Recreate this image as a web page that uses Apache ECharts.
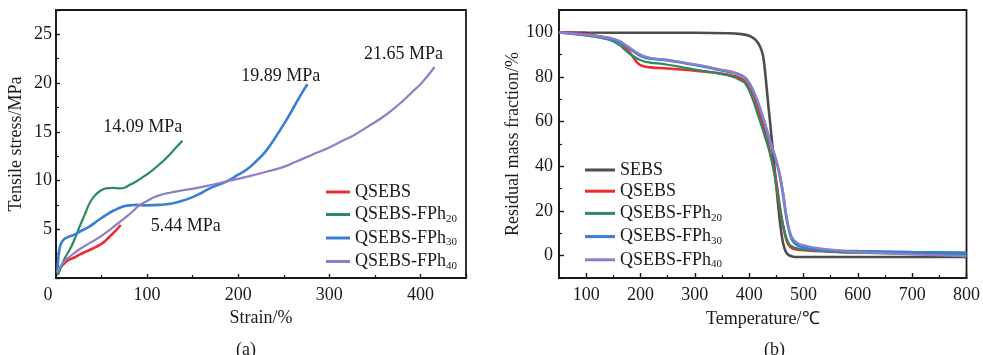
<!DOCTYPE html>
<html><head><meta charset="utf-8">
<script src="https://cdn.jsdelivr.net/npm/echarts@6/dist/echarts.min.js"></script>
<style>html,body{margin:0;padding:0;background:#fff}#c{width:983px;height:355px}</style>
</head><body><div id="c"></div>
<script>
// ---- Panel (a): tensile stress-strain ----
const tensileNames = ['QSEBS', 'QSEBS-FPh20', 'QSEBS-FPh30', 'QSEBS-FPh40'];
const tensileQSEBS = [[1.3,0.5],[4,1.0],[8,1.4],[13,1.8],[18.9,2.05],[26,2.4],[33.5,2.73],[41,3.05],[48,3.4],[54,3.8],[59,4.26],[65,4.8],[71,5.44]];
const tensileFPh20 = [[2,0.3],[6,1.2],[10,2.1],[15,2.9],[20,3.9],[26,5.3],[32,6.6],[37,7.7],[43,8.5],[48,8.9],[55,9.2],[62,9.25],[70,9.2],[76,9.3],[81,9.56],[88,9.9],[96,10.4],[105,11.0],[114,11.7],[122,12.4],[130,13.2],[138.8,14.09]];
const tensileFPh30 = [[1.5,0.5],[2.4,1.9],[3.5,2.8],[5,3.4],[8,3.9],[12,4.15],[18.9,4.4],[28,4.85],[37,5.3],[46,5.9],[55.5,6.5],[64,6.95],[73.7,7.34],[81,7.45],[88,7.5],[100,7.45],[113.9,7.5],[127,7.65],[139.5,7.95],[150,8.3],[160,8.75],[170,9.25],[187,9.9],[200,10.6],[209,11.1],[220,12.0],[231,13.1],[242,14.6],[252.8,16.2],[262,17.7],[270,19.0],[276,19.89]];
const tensileFPh40 = [[1.5,0.6],[5,1.2],[10,1.8],[15.2,2.2],[25,2.9],[37.2,3.6],[48,4.2],[59,4.95],[68,5.6],[77.4,6.3],[85,6.9],[92,7.5],[100,7.9],[107,8.25],[114,8.5],[125,8.75],[139.5,9.0],[157.8,9.3],[175,9.65],[187,9.9],[210,10.4],[231,10.9],[250,11.4],[263.8,11.95],[280,12.6],[300,13.4],[315,14.1],[326,14.6],[340,15.4],[360,16.6],[375,17.7],[390,19.0],[403,20.2],[415.5,21.65]];
const tensileLabels = ['5.44 MPa', '14.09 MPa', '19.89 MPa', '21.65 MPa'];
const tensileLabelAt = [[142.4,5.26],[95.3,15.5],[246.6,20.7],[381.5,23.0]];
const strainTicks = [0, 100, 200, 300, 400];
const stressTicks = [5, 10, 15, 20, 25];

// ---- Panel (b): TGA ----
const tgaNames = ['SEBS', 'QSEBS', 'QSEBS-FPh20', 'QSEBS-FPh30', 'QSEBS-FPh40'];
const tgaSEBS = [[50,100],[100,99.9],[200,99.8],[300,99.8],[360,99.6],[386,99.2],[400,98.5],[410,97],[417,95],[422,92.5],[426,89],[429,83],[432,75.7],[435,68],[438,61],[444,46],[450,31],[456,16.5],[460,9],[463,5],[467,2],[472,0.4],[478,-0.3],[484,-0.6],[550,-0.6],[700,-0.6],[800,-0.6]];
const tgaQSEBS = [[50,100],[80,99.7],[103,99],[125,98.2],[145,97.3],[160,95.8],[170,93.6],[180,91],[188,88.4],[196,86],[204,84.9],[219,84.3],[250,83.8],[286,83.1],[320,82.4],[347,81.6],[370,80.5],[384,79.4],[395,77.5],[405,73.5],[417,65],[429,55],[441,44],[450,33],[457,21],[465,10.5],[472,5],[480,3.2],[500,2.5],[550,1.8],[600,1.4],[700,1.1],[800,0.9]];
const tgaFPh20 = [[50,100],[100,98.6],[140,96.8],[160,94.5],[172,92],[185,89.5],[200,87.6],[210,86.8],[250,85.5],[286,84],[320,82.5],[347,81.4],[368,80.2],[384,78.5],[393,77],[405,71],[417,62.3],[429,53.3],[441,43],[450,31],[457,20.5],[466,10],[472,6],[478,4.2],[490,3.2],[502,2.7],[550,1.8],[600,1.3],[700,0.9],[800,0.6]];
const tgaFPh30 = [[50,100],[103,98.6],[140,97.2],[160,95.8],[175,93.5],[190,91],[204,89.1],[220,88.2],[250,87.5],[286,86],[320,84.5],[347,83.1],[370,82],[384,80.9],[395,79],[408,73.5],[423,63.5],[438,51.5],[453,39.5],[462,28],[468,18],[475,10],[482,6],[492,4.3],[510,3.2],[550,2.4],[600,2.0],[700,1.6],[800,1.3]];
const tgaFPh40 = [[50,100],[103,98.8],[140,97.6],[160,96.3],[175,94],[190,91.5],[204,89.6],[220,88.5],[250,87.5],[286,86.2],[320,84.8],[347,83.3],[368,82.4],[384,80.5],[393,79.4],[408,73.5],[423,63.8],[438,51.9],[453,39.9],[462.6,28],[468.7,17.6],[477.8,8.7],[490,5.5],[505,4.4],[520,3.6],[550,2.7],[580,1.9],[640,1.2],[700,0.6],[800,-0.2]];
const tempTicks = [100, 200, 300, 400, 500, 600, 700, 800];
const tempMinorTicks = [150, 250, 350, 450, 550, 650, 750];
const massTicks = [0, 20, 40, 60, 80, 100];
const massMinorTicks = [-10, 10, 30, 50, 70, 90, 110];

const FONT = '"Liberation Serif", "Times New Roman", serif';
const TXT = '#1a1a1a';
const FS = 18;
const C = {gray:'#4d4d4d', red:'#ee2b33', green:'#2b8a5e', blue:'#3b7fd3', purple:'#8e7fcb'};

function legendFmt(name) {
  const m = name.match(/^(.*?)(\d+)$/);
  return m ? '{m|' + m[1] + '}{s|' + m[2] + '}' : '{m|' + name + '}';
}
const legendRich = {
  m: {fontFamily: FONT, fontSize: FS, color: TXT, lineHeight: 20},
  s: {fontFamily: FONT, fontSize: 11, color: TXT, padding: [9, 0, 0, 0], lineHeight: 20}
};
const axisLine = {show: true, onZero: false, lineStyle: {color: TXT, width: 1.8}};
const lbl = (extra) => Object.assign({fontFamily: FONT, fontSize: FS, color: TXT}, extra || {});

const chart = echarts.init(document.getElementById('c'), null, {renderer: 'canvas'});

function line(name, data, color, width, xi, extra) {
  return Object.assign({
    name, type: 'line', data, xAxisIndex: xi, yAxisIndex: xi,
    showSymbol: false, symbol: 'none', smooth: 0.5,
    lineStyle: {color, width}, itemStyle: {color}, silent: true, animation: false
  }, extra || {});
}

const option = {
  animation: false,
  backgroundColor: '#fff',
  title: [
    {text: '(a)', left: 231, top: 336, textStyle: {fontFamily: FONT, fontSize: FS, color: TXT, fontWeight: 'normal'}},
    {text: '(b)', left: 759, top: 336, textStyle: {fontFamily: FONT, fontSize: FS, color: TXT, fontWeight: 'normal'}}
  ],
  grid: [
    {left: 56, top: 10, width: 410, height: 268, show: true, borderColor: TXT, borderWidth: 1.8, backgroundColor: 'transparent'},
    {left: 559, top: 10, width: 410, height: 268, show: true, borderColor: TXT, borderWidth: 1.8, backgroundColor: 'transparent'}
  ],
  legend: [
    {data: tensileNames, orient: 'vertical', left: 321, top: 178, itemWidth: 24, itemHeight: 3, itemGap: 3.5,
     icon: 'rect', selectedMode: false, formatter: legendFmt, textStyle: {rich: legendRich}},
    {data: tgaNames, orient: 'vertical', left: 580, top: 156, itemWidth: 30, itemHeight: 3, itemGap: 3.2,
     icon: 'rect', selectedMode: false, formatter: legendFmt, textStyle: {rich: legendRich}}
  ],
  xAxis: [
    {type: 'value', gridIndex: 0, min: 0, max: 450, interval: 100,
     name: 'Strain/%', nameLocation: 'middle', nameGap: 31, nameTextStyle: lbl(),
     axisLine, axisTick: {show: true, inside: true, length: 4, lineStyle: {color: TXT, width: 1.4}},
     minorTick: {show: true, splitNumber: 2, length: 3, lineStyle: {color: TXT, width: 1.2}},
     axisLabel: lbl({margin: 8, showMaxLabel: false,
       formatter: v => v === 0 ? '{z|0}' : (strainTicks.includes(v) ? String(v) : ''),
       rich: {z: {fontFamily: FONT, fontSize: FS, color: TXT, padding: [0, 16, 0, 0]}}}),
     splitLine: {show: false}},
    {type: 'value', gridIndex: 1, min: 50, max: 800,
     name: 'Temperature/℃', nameLocation: 'middle', nameGap: 32, nameTextStyle: lbl(),
     axisLine, axisTick: {show: true, inside: true, length: 5, customValues: tempTicks, lineStyle: {color: TXT, width: 1.4}},
     axisLabel: lbl({margin: 8, customValues: tempTicks}),
     splitLine: {show: false}},
    {type: 'value', gridIndex: 1, min: 50, max: 800, position: 'bottom',
     axisLine: {show: false, onZero: false}, axisTick: {show: true, inside: true, length: 3, customValues: tempMinorTicks, lineStyle: {color: TXT, width: 1.2}},
     axisLabel: {show: false}, splitLine: {show: false}}
  ],
  yAxis: [
    {type: 'value', gridIndex: 0, min: 0, max: 27.5, interval: 5,
     name: 'Tensile stress/MPa', nameLocation: 'middle', nameGap: 31, nameTextStyle: lbl(),
     axisLine, axisTick: {show: true, inside: true, length: 4, lineStyle: {color: TXT, width: 1.4}},
     minorTick: {show: true, splitNumber: 2, length: 3, lineStyle: {color: TXT, width: 1.2}},
     axisLabel: lbl({margin: 4, showMaxLabel: false, formatter: v => stressTicks.includes(v) ? String(v) : ''}),
     splitLine: {show: false}},
    {type: 'value', gridIndex: 1, min: -10, max: 110,
     name: 'Residual mass fraction/%', nameLocation: 'middle', nameGap: 37, nameTextStyle: lbl(),
     axisLine, axisTick: {show: true, inside: true, length: 5, customValues: massTicks, lineStyle: {color: TXT, width: 1.4}},
     axisLabel: lbl({margin: 6, customValues: massTicks}),
     splitLine: {show: false}},
    {type: 'value', gridIndex: 1, min: -10, max: 110, position: 'left',
     axisLine: {show: false, onZero: false}, axisTick: {show: true, inside: true, length: 3, customValues: massMinorTicks, lineStyle: {color: TXT, width: 1.2}},
     axisLabel: {show: false}, splitLine: {show: false}}
  ],
  series: [
    line('QSEBS', tensileQSEBS, C.red, 2.6, 0),
    line('QSEBS-FPh20', tensileFPh20, C.green, 2.2, 0),
    line('QSEBS-FPh30', tensileFPh30, C.blue, 2.6, 0),
    line('QSEBS-FPh40', tensileFPh40, C.purple, 2.2, 0),
    {
      name: 'annotations', type: 'scatter', xAxisIndex: 0, yAxisIndex: 0,
      data: tensileLabelAt.map((p, i) => ({value: p, name: tensileLabels[i]})),
      symbol: 'circle', symbolSize: 2, itemStyle: {color: '#fff', opacity: 1}, silent: true, animation: false,
      labelLayout: {hideOverlap: false},
      label: {show: true, position: [1, 1], align: 'center', verticalAlign: 'middle', opacity: 1,
              formatter: p => p.name, fontFamily: FONT, fontSize: FS, color: TXT}
    },
    line('SEBS', tgaSEBS, C.gray, 2.6, 1, {smooth: 0.3}),
    line('QSEBS', tgaQSEBS, C.red, 2.6, 1),
    line('QSEBS-FPh20', tgaFPh20, C.green, 2.2, 1),
    line('QSEBS-FPh30', tgaFPh30, C.blue, 2.8, 1),
    line('QSEBS-FPh40', tgaFPh40, C.purple, 2.2, 1)
  ]
};
chart.setOption(option);
</script>
</body></html>
